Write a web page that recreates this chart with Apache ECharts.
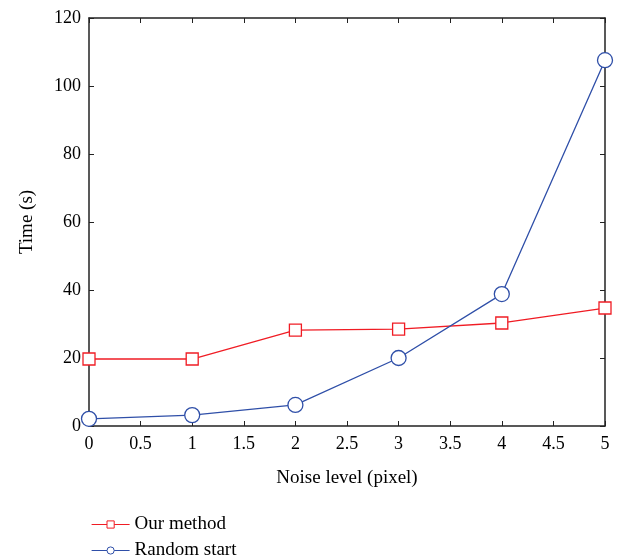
<!DOCTYPE html>
<html>
<head>
<meta charset="utf-8">
<script src="https://cdn.jsdelivr.net/npm/echarts@6/dist/echarts.min.js"></script>
<style>
html,body{margin:0;padding:0;background:#fff;}
#chart{width:623px;height:558px;}
</style>
</head>
<body>
<div id="chart"></div>
<script>
// Noise level (pixel) on the x axis
const noiseLevels = [0, 1, 2, 3, 4, 5];
// Computation time (s) per noise level
const ourMethod = [19.7, 19.7, 28.2, 28.5, 30.3, 34.7];
const randomStart = [2.1, 3.2, 6.2, 20.0, 38.8, 107.6];
const seriesNames = ['Our method', 'Random start'];

const FONT = '"Liberation Serif", "DejaVu Serif", serif';
const AXIS_COLOR = '#222';
const TEXT_COLOR = '#000';

const chart = echarts.init(document.getElementById('chart'));

const baseAxis = {
  axisLine: { show: true, onZero: false, lineStyle: { color: AXIS_COLOR, width: 1.5 } },
  axisTick: { show: true, inside: true, length: 5, lineStyle: { color: AXIS_COLOR, width: 1 } },
  splitLine: { show: false },
  axisLabel: { color: TEXT_COLOR, fontFamily: FONT, fontSize: 18 }
};

// one legend block per series, stacked under the plot
const legendBlock = (name, top) => ({
  orient: 'vertical',
  left: 86,
  top: top,
  itemWidth: 38,
  itemHeight: 9,
  itemStyle: { borderWidth: 1 },
  lineStyle: { width: 1.2 },
  textStyle: { fontFamily: FONT, fontSize: 19, color: TEXT_COLOR },
  data: [name]
});

chart.setOption({
  animation: false,
  textStyle: { fontFamily: FONT },
  grid: { left: 89, top: 18, width: 516, height: 408, containLabel: false },
  legend: [legendBlock(seriesNames[0], 510), legendBlock(seriesNames[1], 536)],
  xAxis: [
    Object.assign({}, baseAxis, {
      type: 'value', min: 0, max: 5, interval: 0.5, position: 'bottom',
      name: 'Noise level (pixel)', nameLocation: 'middle', nameGap: 43,
      nameTextStyle: { fontFamily: FONT, fontSize: 19, color: TEXT_COLOR },
      axisLabel: Object.assign({}, baseAxis.axisLabel, { margin: 9 })
    }),
    Object.assign({}, baseAxis, {
      type: 'value', min: 0, max: 5, interval: 0.5, position: 'top',
      axisLabel: { show: false }
    })
  ],
  yAxis: [
    Object.assign({}, baseAxis, {
      type: 'value', min: 0, max: 120, interval: 20, position: 'left',
      name: 'Time (s)', nameLocation: 'middle', nameGap: 52, nameRotate: 90,
      nameTextStyle: { fontFamily: FONT, fontSize: 19, color: TEXT_COLOR },
      axisLabel: Object.assign({}, baseAxis.axisLabel, { margin: 8 })
    }),
    Object.assign({}, baseAxis, {
      type: 'value', min: 0, max: 120, interval: 20, position: 'right',
      axisLabel: { show: false }
    })
  ],
  series: [
    {
      name: seriesNames[0], type: 'line',
      data: noiseLevels.map((x, i) => [x, ourMethod[i]]),
      symbol: 'rect', symbolSize: 12, showAllSymbol: true,
      itemStyle: { color: '#fff', borderColor: '#f01c24', borderWidth: 1.3 },
      lineStyle: { color: '#f01c24', width: 1.3 },
      emphasis: { disabled: true }
    },
    {
      name: seriesNames[1], type: 'line',
      data: noiseLevels.map((x, i) => [x, randomStart[i]]),
      symbol: 'circle', symbolSize: 15, showAllSymbol: true,
      itemStyle: { color: '#fff', borderColor: '#2f4fa8', borderWidth: 1.3 },
      lineStyle: { color: '#2f4fa8', width: 1.3 },
      emphasis: { disabled: true }
    }
  ]
});
</script>
</body>
</html>
